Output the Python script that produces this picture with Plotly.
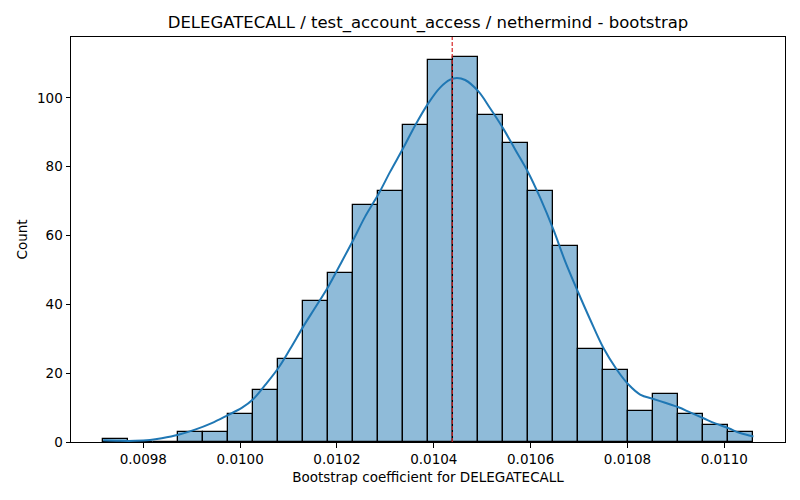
import plotly.graph_objects as go

# histogram of bootstrap coefficients
bin_start = 0.0097161
bin_width = 0.00005168
counts = [1, 0, 0, 3, 3, 8, 15, 24, 41, 49, 69, 73, 92, 111, 112, 95, 87, 73, 57, 27, 21, 9, 14, 8, 5, 3]

# kde curve (in count units)
kde_x = [0.0097174, 0.0097519, 0.0097829, 0.0098138, 0.0098380, 0.0098723, 0.0099068, 0.0099413,
         0.0099756, 0.0100033, 0.0100273, 0.0100514, 0.0100789, 0.0101031, 0.0101306, 0.0101548,
         0.0101822, 0.0102064, 0.0102339, 0.0102581, 0.0102855, 0.0103097, 0.0103372, 0.0103614,
         0.0103888, 0.0104130, 0.0104337, 0.0104475, 0.0104647, 0.0104921, 0.0105163, 0.0105438,
         0.0105680, 0.0105955, 0.0106196, 0.0106471, 0.0106713, 0.0106988, 0.0107229, 0.0107504,
         0.0107781, 0.0108021, 0.0108262, 0.0108537, 0.0108779, 0.0109054, 0.0109295, 0.0109570,
         0.0109812, 0.0110087, 0.0110328, 0.0110603]
kde_y = [0.5, 0.35, 0.35, 0.6, 1.1, 2.1, 3.6, 5.5,
         7.9, 9.9, 12.5, 16.5, 21.5, 27.0, 33.6, 39.0,
         45.2, 51.5, 58.8, 65.5, 72.0, 78.5, 85.5, 92.0,
         98.5, 103.0, 105.3, 105.8, 105.2, 101.9, 97.0, 91.0,
         85.0, 78.2, 71.0, 61.7, 52.5, 43.3, 35.6, 27.3,
         21.0, 16.7, 13.8, 12.5, 11.4, 10.1, 8.6, 6.9,
         5.4, 4.0, 2.6, 1.6]

mean_value = 0.010438

centers = [bin_start + bin_width * (i + 0.5) for i in range(len(counts))]

fig = go.Figure()
fig.add_trace(go.Bar(x=centers, y=counts, width=bin_width,
                     marker=dict(color="rgba(31,119,180,0.5)", line=dict(color="black", width=1.3)),
                     showlegend=False))
fig.add_trace(go.Scatter(x=kde_x, y=kde_y, mode="lines", line=dict(color="#1f77b4", width=2, shape="spline"),
                         showlegend=False))
fig.add_shape(type="line", x0=mean_value, x1=mean_value, y0=0, y1=1, xref="x", yref="paper",
              line=dict(color="#d62728", width=1.2, dash="4px,2px"))

axis_style = dict(showline=True, linecolor="black", linewidth=1, mirror=True, showgrid=False,
                  zeroline=False, ticks="outside", ticklen=4.5, tickcolor="black", tickwidth=1,
                  tickfont=dict(size=13.5, color="black"), automargin=False)

# page body has an 8px margin, so the figure is 792x492 and offsets are shifted by 8
fig.update_layout(
    width=792, height=492,
    margin=dict(l=63, r=15, t=29, b=58),
    plot_bgcolor="white", paper_bgcolor="white",
    font=dict(family="DejaVu Sans", color="black"),
    title=dict(text="DELEGATECALL / test_account_access / nethermind - bootstrap", x=0.5, xref="paper",
               xanchor="center", y=1 - 14 / 492, yanchor="middle", font=dict(size=16.5, color="black")),
    bargap=0,
)
fig.update_xaxes(range=[0.0096506, 0.0111254], tick0=0.0098, dtick=0.0002, tickformat=".4f",
                 title=dict(text="Bootstrap coefficient for DELEGATECALL", font=dict(size=13.5), standoff=6),
                 **axis_style)
fig.update_yaxes(range=[0, 117.7], tick0=0, dtick=20,
                 title=dict(text="Count", font=dict(size=13.5), standoff=6), **axis_style)

fig.write_html("out.html")
